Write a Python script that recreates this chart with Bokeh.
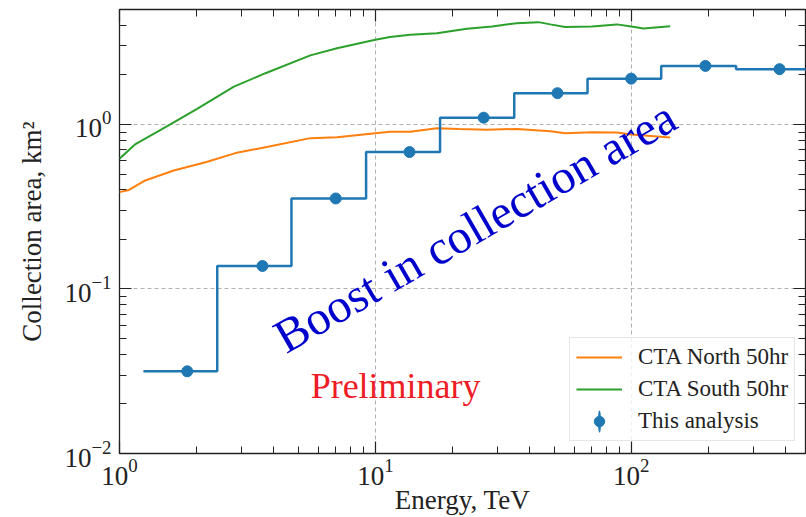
from bokeh.plotting import figure
from bokeh.models import (Range1d, FixedTicker, LogAxis, LogTickFormatter, Legend,
                          LegendItem, Label, ColumnDataSource, CustomJSTickFormatter)
from bokeh.embed import file_html
from bokeh.resources import INLINE

# ---------------- data ----------------
north_energy = [1.0, 1.09, 1.26, 1.63, 2.17, 2.84, 3.72, 5.57, 7.08, 10.0, 11.4, 13.7,
                17.4, 21.2, 27.3, 35.7, 48.3, 55.2, 70.2, 87.9, 100.0, 142.0]
north_area = [0.388, 0.40, 0.457, 0.525, 0.59, 0.67, 0.728, 0.826, 0.837, 0.885, 0.903, 0.903,
              0.95, 0.94, 0.928, 0.94, 0.91, 0.885, 0.898, 0.894, 0.87, 0.834]

south_energy = [1.0, 1.155, 1.58, 2.01, 2.80, 3.72, 5.57, 7.08, 10.0, 11.4, 13.7, 17.4,
                22.8, 28.6, 35.7, 43.4, 48.3, 55.2, 70.2, 87.9, 100.0, 111.7, 142.0]
south_area = [0.62, 0.76, 1.0, 1.245, 1.70, 2.05, 2.63, 2.91, 3.27, 3.40, 3.51, 3.59,
              3.82, 3.94, 4.13, 4.19, 4.06, 3.91, 3.94, 4.06, 3.94, 3.83, 3.96]

bin_edges = [1.24, 2.41, 4.70, 9.2, 17.9, 34.9, 67.5, 131.0, 257.0, 500.0]
bin_values = [0.0316, 0.138, 0.355, 0.68, 1.10, 1.55, 1.90, 2.27, 2.17]
point_energy = [1.84, 3.62, 7.0, 13.6, 26.5, 51.5, 100.0, 195.0, 380.0]

x_major_ticks = [1, 10, 100]
y_major_ticks = [0.01, 0.1, 1]

series_labels = ["CTA North 50hr", "CTA South 50hr", "This analysis"]
x_label = "Energy, TeV"
y_label = "Collection area, km\u00b2"
boost_text = "Boost in collection area"
prelim_text = "Preliminary"

# ---------------- styling ----------------
SERIF = "Liberation Serif"
C_BLUE = "#1f77b4"
C_ORANGE = "#ff7f0e"
C_GREEN = "#2ca02c"
DARK = "#222222"

x_minor_ticks = [m * 10 ** e for e in range(0, 3) for m in range(2, 10)]
y_minor_ticks = [m * 10.0 ** e for e in (-2, -1, 0) for m in range(2, 10)]

p = figure(width=806, height=517, x_axis_type="log", y_axis_type="log",
           x_range=Range1d(1, 480), y_range=Range1d(0.01, 5),
           output_backend="svg", toolbar_location=None, title=None,
           min_border_left=119, min_border_right=1, min_border_top=9, min_border_bottom=64)
p.background_fill_color = "white"
p.border_fill_color = "white"
p.outline_line_color = DARK
p.outline_line_width = 1.3


def style_axis(ax, major, minor, show_labels):
    ax.ticker = FixedTicker(ticks=major, minor_ticks=minor)
    ax.axis_line_color = None
    ax.major_tick_in = 12
    ax.major_tick_out = 0
    ax.minor_tick_in = 7
    ax.minor_tick_out = 0
    ax.major_tick_line_color = DARK
    ax.minor_tick_line_color = DARK
    ax.major_tick_line_width = 1.2
    ax.minor_tick_line_width = 1.0
    if show_labels:
        ax.formatter = LogTickFormatter()
        ax.major_label_text_font = SERIF
        ax.major_label_text_font_size = "27px"
        ax.major_label_text_color = DARK
        ax.major_label_standoff = 8
        ax.axis_label_text_font = SERIF
        ax.axis_label_text_font_size = "27px"
        ax.axis_label_text_font_style = "normal"
        ax.axis_label_text_color = DARK
    else:
        ax.formatter = CustomJSTickFormatter(code="return ' '")
        ax.major_label_text_font_size = "1px"
        ax.major_label_text_color = None
        ax.major_label_standoff = 0


style_axis(p.xaxis[0], x_major_ticks, x_minor_ticks, True)
style_axis(p.yaxis[0], y_major_ticks, y_minor_ticks, True)
p.xaxis[0].axis_label = x_label
p.yaxis[0].axis_label = y_label
p.xaxis[0].major_label_standoff = 5
p.xaxis[0].axis_label_standoff = -3
p.yaxis[0].axis_label_standoff = 14

top_axis = LogAxis()
style_axis(top_axis, x_major_ticks, x_minor_ticks, False)
p.add_layout(top_axis, "above")
right_axis = LogAxis()
style_axis(right_axis, y_major_ticks, y_minor_ticks, False)
p.add_layout(right_axis, "right")

for g in (p.xgrid[0], p.ygrid[0]):
    g.grid_line_color = "#b0b0b0"
    g.grid_line_dash = "4 3"
    g.grid_line_width = 1

# ---------------- glyphs ----------------
r_north = p.line(north_energy, north_area, line_color=C_ORANGE, line_width=2)
r_south = p.line(south_energy, south_area, line_color=C_GREEN, line_width=2)

step_src = ColumnDataSource(dict(x=bin_edges, y=bin_values + [bin_values[-1]]))
p.step("x", "y", source=step_src, mode="after", line_color=C_BLUE, line_width=2.5)

pts = ColumnDataSource(dict(x=point_energy, y=bin_values))
r_err = p.ellipse("x", "y", source=pts, width=0.6, height=8, width_units="screen",
                  height_units="screen", fill_color=C_BLUE, line_color=C_BLUE, line_width=1.3)
r_pts = p.scatter("x", "y", source=pts, size=11, marker="circle",
                  fill_color=C_BLUE, line_color=C_BLUE)

# ---------------- annotations ----------------
p.add_layout(Label(x=24.5, y=0.24, text=boost_text, angle=30, angle_units="deg",
                   text_align="center", text_baseline="alphabetic",
                   text_font=SERIF, text_font_size="48px", text_color="#0000cd"))
p.add_layout(Label(x=12, y=0.0259, text=prelim_text,
                   text_align="center", text_baseline="alphabetic",
                   text_font=SERIF, text_font_size="36px", text_color="#ee1c25"))

legend = Legend(items=[LegendItem(label=series_labels[0], renderers=[r_north]),
                       LegendItem(label=series_labels[1], renderers=[r_south]),
                       LegendItem(label=series_labels[2], renderers=[r_err, r_pts])],
                location=(450, 12))
legend.label_text_font = SERIF
legend.label_text_font_size = "23px"
legend.label_text_color = DARK
legend.glyph_width = 46
legend.glyph_height = 26
legend.label_height = 26
legend.spacing = 6
legend.padding = 6
legend.label_standoff = 16
legend.margin = 0
legend.border_line_color = "#cccccc"
legend.border_line_width = 1
legend.background_fill_color = "white"
legend.background_fill_alpha = 0.8
p.add_layout(legend)

open("out.html", "w").write(file_html(p, INLINE))
